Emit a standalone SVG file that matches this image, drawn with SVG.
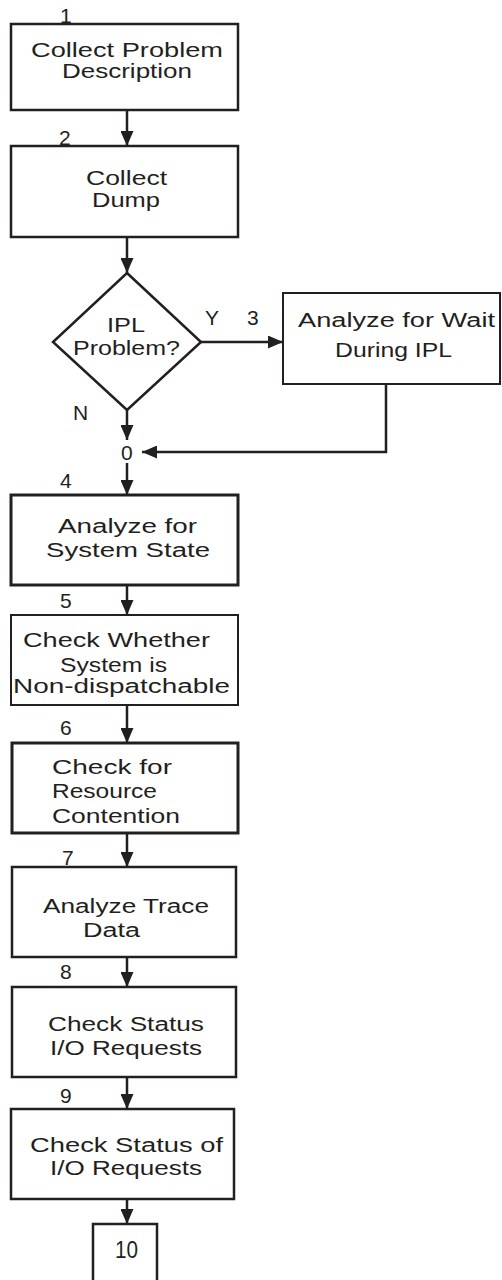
<svg xmlns="http://www.w3.org/2000/svg" width="502" height="1280" viewBox="0 0 502 1280">
<style>
.box{fill:#fff;stroke:#231f20;stroke-width:2.5}
.thick{stroke-width:3}
.thin{stroke-width:2}
.t{font-family:"Liberation Sans",Arial,sans-serif;font-size:19.5px;fill:#231f20}
.n{font-family:"Liberation Sans",Arial,sans-serif;font-size:21px;fill:#231f20}
.big{font-size:23px}
.c{fill:none;stroke:#231f20;stroke-width:2.5}
</style>
<defs>
<marker id="ah" markerUnits="userSpaceOnUse" markerWidth="15" markerHeight="13" refX="15" refY="6.5" orient="auto">
<path d="M0,0 L15,6.5 L0,13 z" fill="#231f20"/>
</marker>
</defs>
<rect width="502" height="1280" fill="#fff"/>
<g id="connectors">
<path class="c" d="M127,110 V146" marker-end="url(#ah)"/>
<path class="c" d="M127,237 V273" marker-end="url(#ah)"/>
<path class="c" d="M201,342 H283" marker-end="url(#ah)"/>
<path class="c" d="M127,410 V440" marker-end="url(#ah)"/>
<path class="c" d="M386,384 V452 H142" marker-end="url(#ah)"/>
<path class="c" d="M127,463 V495" marker-end="url(#ah)"/>
<path class="c" d="M127,585 V615" marker-end="url(#ah)"/>
<path class="c" d="M127,705 V743" marker-end="url(#ah)"/>
<path class="c" d="M127,833 V867" marker-end="url(#ah)"/>
<path class="c" d="M127,957 V987" marker-end="url(#ah)"/>
<path class="c" d="M127,1077 V1109" marker-end="url(#ah)"/>
<path class="c" d="M127,1199 V1224" marker-end="url(#ah)"/>
<text class="n" x="205" y="325">Y</text>
<text class="n" x="73" y="420">N</text>
</g>
<g id="node1">
<rect class="box" x="11" y="24" width="227" height="86"/>
<text class="n" x="60" y="23">1</text>
<text class="t" x="31" y="57" textLength="192" lengthAdjust="spacingAndGlyphs">Collect Problem</text>
<text class="t" x="62" y="78" textLength="130" lengthAdjust="spacingAndGlyphs">Description</text>
</g>
<g id="node2">
<rect class="box" x="11" y="146" width="227" height="91"/>
<text class="n" x="59" y="145">2</text>
<text class="t" x="86" y="185" textLength="81" lengthAdjust="spacingAndGlyphs">Collect</text>
<text class="t" x="92" y="207" textLength="68" lengthAdjust="spacingAndGlyphs">Dump</text>
</g>
<g id="decision">
<polygon class="box" points="127,273 201,342 127,410 53,342"/>
<text class="t" x="107" y="332" textLength="38" lengthAdjust="spacingAndGlyphs">IPL</text>
<text class="t" x="73" y="355" textLength="107" lengthAdjust="spacingAndGlyphs">Problem?</text>
</g>
<g id="node3">
<rect class="box thin" x="283" y="293" width="217" height="91"/>
<text class="n" x="247" y="325">3</text>
<text class="t" x="298" y="327" textLength="197" lengthAdjust="spacingAndGlyphs">Analyze for Wait</text>
<text class="t" x="335" y="357" textLength="117" lengthAdjust="spacingAndGlyphs">During IPL</text>
</g>
<g id="connector0">
<text class="n" x="121" y="460">0</text>
</g>
<g id="node4">
<rect class="box thick" x="11" y="495" width="227" height="90"/>
<text class="n" x="60" y="488">4</text>
<text class="t" x="58" y="533" textLength="139" lengthAdjust="spacingAndGlyphs">Analyze for</text>
<text class="t" x="46" y="557" textLength="164" lengthAdjust="spacingAndGlyphs">System State</text>
</g>
<g id="node5">
<rect class="box thin" x="11" y="615" width="227" height="90"/>
<text class="n" x="60" y="608">5</text>
<text class="t" x="23" y="647" textLength="187" lengthAdjust="spacingAndGlyphs">Check Whether</text>
<text class="t" x="60" y="672" textLength="107" lengthAdjust="spacingAndGlyphs">System is</text>
<text class="t" x="13" y="693" textLength="217" lengthAdjust="spacingAndGlyphs">Non-dispatchable</text>
</g>
<g id="node6">
<rect class="box thick" x="12" y="743" width="226" height="90"/>
<text class="n" x="60" y="735">6</text>
<text class="t" x="52" y="774" textLength="120" lengthAdjust="spacingAndGlyphs">Check for</text>
<text class="t" x="52" y="798" textLength="105" lengthAdjust="spacingAndGlyphs">Resource</text>
<text class="t" x="52" y="823" textLength="128" lengthAdjust="spacingAndGlyphs">Contention</text>
</g>
<g id="node7">
<rect class="box" x="12" y="867" width="224" height="90"/>
<text class="n" x="62" y="865">7</text>
<text class="t" x="43" y="913" textLength="166" lengthAdjust="spacingAndGlyphs">Analyze Trace</text>
<text class="t" x="83" y="937" textLength="57" lengthAdjust="spacingAndGlyphs">Data</text>
</g>
<g id="node8">
<rect class="box" x="12" y="987" width="224" height="90"/>
<text class="n" x="60" y="979">8</text>
<text class="t" x="48" y="1031" textLength="156" lengthAdjust="spacingAndGlyphs">Check Status</text>
<text class="t" x="50" y="1055" textLength="152" lengthAdjust="spacingAndGlyphs">I/O Requests</text>
</g>
<g id="node9">
<rect class="box" x="11" y="1109" width="223" height="90"/>
<text class="n" x="60" y="1103">9</text>
<text class="t" x="30" y="1152" textLength="193" lengthAdjust="spacingAndGlyphs">Check Status of</text>
<text class="t" x="50" y="1175" textLength="152" lengthAdjust="spacingAndGlyphs">I/O Requests</text>
</g>
<g id="node10">
<rect class="box" x="93" y="1224" width="64" height="70"/>
<text class="n big" x="115" y="1258" textLength="23" lengthAdjust="spacingAndGlyphs">10</text>
</g>
</svg>
